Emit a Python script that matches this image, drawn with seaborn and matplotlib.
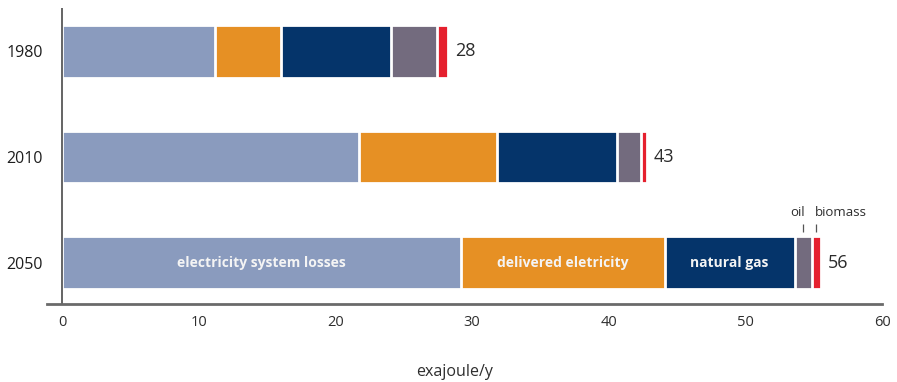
import numpy as np
import pandas as pd
import matplotlib
matplotlib.use("Agg")
import matplotlib.pyplot as plt
import seaborn as sns

# Final energy use by carrier (exajoule per year)
years = ["1980", "2010", "2050"]
carriers = ["electricity system losses", "delivered eletricity", "natural gas", "oil", "biomass"]
losses = [11.2, 21.7, 29.2]
delivered = [4.85, 10.15, 14.9]
natural_gas = [8.05, 8.75, 9.5]
oil = [3.35, 1.75, 1.25]
biomass = [0.8, 0.45, 0.7]
x_ticks = [0, 10, 20, 30, 40, 50, 60]
x_label = "exajoule/y"

colors = ["#8a9bbe", "#e69024", "#05346a", "#736b7e", "#e5202e"]

sns.set_theme(style="white")
plt.rcParams["font.family"] = ["Open Sans", "DejaVu Sans"]

series = [losses, delivered, natural_gas, oil, biomass]
stack = np.array(series)
cum = np.cumsum(stack, axis=0)          # right edge of every segment
totals = cum[-1]

fig = plt.figure(figsize=(8.97, 3.82), dpi=100)
ax = fig.add_axes([47 / 897, 1 - 304 / 382, 835 / 897, 296 / 382])

# Stacked bars: paint cumulative totals from the longest down to the shortest
for k in range(len(series) - 1, -1, -1):
    df = pd.DataFrame({"year": years, "value": cum[k]})
    sns.barplot(data=df, x="value", y="year", orient="h", order=years,
                color=colors[k], saturation=1, width=0.5,
                edgecolor="white", linewidth=2, ax=ax)

ax.set_xlim(-1.1, 60)
ax.set_ylim(2.39, -0.41)
ax.set_xlabel("")
ax.set_ylabel("")
ax.set_xticks(x_ticks)
ax.set_xticklabels([str(t) for t in x_ticks])

for side in ["top", "right", "left"]:
    ax.spines[side].set_visible(False)
ax.spines["bottom"].set_color("#6a6a6a")
ax.spines["bottom"].set_linewidth(2)
ax.spines["bottom"].set_zorder(6)
ax.axvline(0, color="#4a4a4a", lw=1.2, zorder=6)

ax.tick_params(axis="x", length=0, pad=8, labelsize=10.5, labelcolor="#2e2e2e")
ax.tick_params(axis="y", length=0, pad=3, labelsize=11.5, labelcolor="#1e1e1e")

# Totals at the end of each bar
for i, t in enumerate(totals):
    ax.annotate(f"{round(t)}", xy=(t, i), xytext=(5, 0), textcoords="offset points",
                ha="left", va="center", fontsize=13, color="#2b2b2b")

# Names of the large carriers inside the 2050 bar
last = len(years) - 1
starts = cum - stack
for k in range(3):
    cx = (starts[k, last] + cum[k, last]) / 2
    ax.text(cx, last, carriers[k], ha="center", va="center", fontsize=10,
            fontweight="bold", color="#f4f4f4", zorder=7)

# Leader marks and names for the two thin carriers
for k, ha, dx in [(3, "right", 1.5), (4, "left", -1)]:
    cx = (starts[k, last] + cum[k, last]) / 2
    ax.plot([cx, cx], [last - 0.29, last - 0.37], color="#555555", lw=0.9,
            solid_capstyle="butt", zorder=7)
    ax.annotate(carriers[k], xy=(cx, last - 0.48), xytext=(dx, 0),
                textcoords="offset points", ha=ha, va="center",
                fontsize=9.5, color="#2e2e2e")

fig.text(455 / 897, 1 - 372 / 382, x_label, ha="center", va="center",
         fontsize=11.5, color="#2e2e2e")

fig.savefig("out.png", dpi=100)
